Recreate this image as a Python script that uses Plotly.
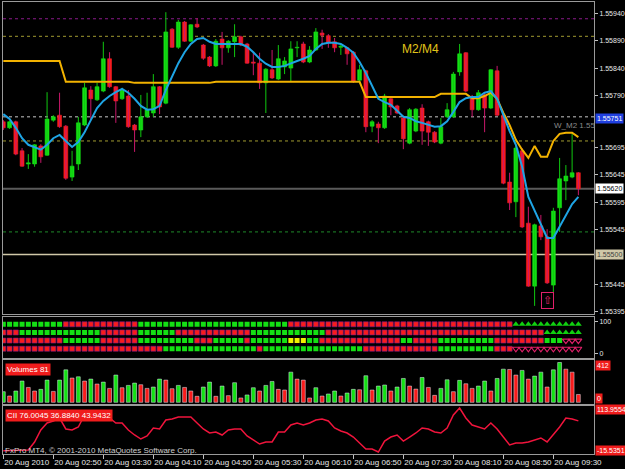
import plotly.graph_objects as go
from plotly.subplots import make_subplots

# ---------------- data ----------------
bar_index = list(range(93))

open_p = [1.55742,1.55731,1.55742,1.55689,1.55665,1.55665,1.55698,1.55681,1.55745,1.55754,
1.55734,1.55641,1.55665,1.55736,1.55800,1.55782,1.55798,1.55857,1.55806,1.55784,
1.55789,1.55736,1.55727,1.55751,1.55758,1.55806,1.55776,1.55911,1.55878,1.55924,
1.55889,1.55920,1.55882,1.55860,1.55844,1.55893,1.55877,1.55888,1.55897,1.55884,
1.55851,1.55849,1.55813,1.55837,1.55820,1.55842,1.55840,1.55877,1.55884,1.55851,
1.55873,1.55904,1.55899,1.55888,1.55878,1.55877,1.55869,1.55818,1.55835,1.55734,
1.55738,1.55731,1.55784,1.55771,1.55749,1.55703,1.55725,1.55767,1.55742,1.55723,
1.55703,1.55751,1.55751,1.55833,1.55868,1.55787,1.55764,1.55791,1.55767,1.55835,
1.55754,1.55632,1.55596,1.55689,1.55557,1.55442,1.55552,1.55532,1.55444,1.55585,
1.55634,1.55641,1.55649]

high_p = [1.55745,1.55744,1.55744,1.55694,1.55683,1.55701,1.55701,1.55796,1.55754,1.55795,
1.55736,1.55689,1.55751,1.55813,1.55807,1.55813,1.55888,1.55869,1.55807,1.55804,
1.55800,1.55738,1.55791,1.55795,1.55829,1.55807,1.55942,1.55913,1.55928,1.55926,
1.55920,1.55931,1.55884,1.55862,1.55893,1.55906,1.55891,1.55920,1.55899,1.55886,
1.55869,1.55868,1.55840,1.55873,1.55882,1.55860,1.55889,1.55889,1.55888,1.55880,
1.55913,1.55910,1.55902,1.55895,1.55884,1.55878,1.55871,1.55846,1.55837,1.55745,
1.55742,1.55793,1.55785,1.55773,1.55753,1.55767,1.55767,1.55774,1.55744,1.55725,
1.55749,1.55776,1.55833,1.55884,1.55869,1.55791,1.55800,1.55795,1.55838,1.55844,
1.55756,1.55649,1.55700,1.55694,1.55587,1.55556,1.55572,1.55546,1.55585,1.55676,
1.55663,1.55722,1.55650]

low_p = [1.55727,1.55729,1.55681,1.55660,1.55656,1.55660,1.55667,1.55680,1.55742,1.55731,
1.55636,1.55634,1.55654,1.55734,1.55745,1.55780,1.55796,1.55804,1.55740,1.55782,
1.55731,1.55687,1.55714,1.55749,1.55751,1.55756,1.55774,1.55877,1.55875,1.55888,
1.55888,1.55913,1.55855,1.55842,1.55842,1.55846,1.55868,1.55860,1.55880,1.55848,
1.55827,1.55802,1.55758,1.55820,1.55818,1.55829,1.55816,1.55860,1.55849,1.55849,
1.55871,1.55875,1.55877,1.55869,1.55864,1.55846,1.55813,1.55816,1.55723,1.55723,
1.55703,1.55729,1.55754,1.55756,1.55692,1.55701,1.55723,1.55700,1.55698,1.55703,
1.55701,1.55749,1.55749,1.55826,1.55796,1.55751,1.55762,1.55723,1.55765,1.55753,
1.55628,1.55581,1.55568,1.55548,1.55441,1.55406,1.55526,1.55446,1.55428,1.55541,
1.55599,1.55639,1.55608]

close_p = [1.55731,1.55742,1.55683,1.55661,1.55667,1.55700,1.55678,1.55747,1.55751,1.55733,
1.55639,1.55661,1.55740,1.55804,1.55784,1.55806,1.55857,1.55806,1.55780,1.55800,
1.55733,1.55727,1.55751,1.55764,1.55806,1.55769,1.55906,1.55878,1.55924,1.55889,
1.55919,1.55915,1.55858,1.55844,1.55889,1.55877,1.55889,1.55897,1.55882,1.55849,
1.55849,1.55813,1.55838,1.55822,1.55857,1.55853,1.55875,1.55878,1.55851,1.55873,
1.55906,1.55900,1.55886,1.55877,1.55880,1.55866,1.55815,1.55837,1.55733,1.55742,
1.55731,1.55789,1.55769,1.55758,1.55711,1.55764,1.55765,1.55725,1.55723,1.55705,
1.55733,1.55764,1.55829,1.55866,1.55798,1.55764,1.55795,1.55767,1.55837,1.55754,
1.55630,1.55594,1.55694,1.55550,1.55442,1.55554,1.55532,1.55448,1.55579,1.55638,
1.55643,1.55649,1.55620]

ma_fast = [1.55756,1.55747,1.55731,1.55712,1.55700,1.55696,1.55691,1.55700,1.55712,1.55718,
1.55707,1.55696,1.55705,1.55723,1.55745,1.55767,1.55780,1.55789,1.55796,1.55802,
1.55795,1.55784,1.55771,1.55764,1.55765,1.55771,1.55800,1.55826,1.55849,1.55869,
1.55884,1.55893,1.55895,1.55888,1.55884,1.55884,1.55884,1.55884,1.55884,1.55879,
1.55869,1.55857,1.55848,1.55842,1.55842,1.55844,1.55849,1.55853,1.55857,1.55862,
1.55875,1.55884,1.55886,1.55886,1.55884,1.55877,1.55868,1.55851,1.55831,1.55806,
1.55784,1.55778,1.55773,1.55762,1.55751,1.55749,1.55743,1.55740,1.55736,1.55733,
1.55734,1.55743,1.55760,1.55778,1.55785,1.55787,1.55787,1.55795,1.55798,1.55784,
1.55754,1.55725,1.55700,1.55660,1.55605,1.55581,1.55557,1.55530,1.55530,1.55550,
1.55570,1.55592,1.55605]

ma_m2m4 = [1.55853,1.55853,1.55853,1.55853,1.55853,1.55853,1.55853,1.55853,1.55853,1.55853,
1.55815,1.55815,1.55815,1.55815,1.55815,1.55815,1.55815,1.55815,1.55815,1.55815,
1.55815,1.55813,1.55813,1.55813,1.55813,1.55813,1.55813,1.55813,1.55813,1.55813,
1.55813,1.55813,1.55813,1.55813,1.55815,1.55815,1.55815,1.55815,1.55815,1.55815,
1.55815,1.55815,1.55815,1.55815,1.55815,1.55815,1.55815,1.55815,1.55815,1.55815,
1.55815,1.55815,1.55815,1.55815,1.55815,1.55815,1.55815,1.55815,1.55787,1.55787,
1.55787,1.55787,1.55787,1.55787,1.55787,1.55787,1.55787,1.55787,1.55787,1.55787,
1.55793,1.55793,1.55793,1.55793,1.55793,1.55785,1.55785,1.55789,1.55795,1.55784,
1.55758,1.55736,1.55709,1.55691,1.55676,1.55698,1.55678,1.55678,1.55707,1.55720,
1.55722,1.55722,1.55714]

volumes = [110,65,117,220,154,117,134,230,113,230,
336,251,264,220,240,189,209,144,282,151,
175,199,182,144,158,240,230,141,175,154,
117,62,158,209,62,168,69,203,45,76,
151,117,175,216,134,127,312,240,230,45,
151,65,86,117,65,96,134,130,275,127,
168,179,117,158,247,168,137,257,154,72,
144,233,110,227,192,144,168,220,117,247,
343,340,282,330,240,271,312,158,336,412,
343,312,81]

cci = [-11.7,-11.7,-11.7,-11.7,-9.6,13.9,49.2,69.8,75.7,84.5,
52.2,49.2,58.1,93.4,93.4,93.4,91.9,84.5,69.8,69.8,
49.2,34.5,22.7,31.6,55.1,52.2,78.6,81.6,87.5,87.5,
87.5,69.8,52.2,40.4,43.3,34.5,49.2,52.2,52.2,31.6,
19.8,8.0,13.9,13.9,43.3,43.3,63.9,69.8,63.9,69.8,
78.6,81.6,75.7,55.1,46.3,40.4,28.6,11.0,-6.7,-6.7,
-15.5351,16.8,28.6,34.5,16.8,28.6,40.4,55.1,52.2,43.3,
40.4,55.1,93.4,113.9554,84.5,63.9,58.1,52.2,69.8,52.2,
28.6,5.1,11.0,11.0,13.9,19.8,25.7,13.9,34.5,58.1,
84.5,81.6,76.0045]

# signal rows of the dot indicator: G=green, R=red, Y=yellow, U=up arrow, D=down arrow
sig_row1 = "GGGGGGGGGGRRRRRRRRRRRRGGGGGGGGGGGGGGGGGGGGGGGGRRRRRRRRRRRRRRRRRRRRRRRRRRRRRRRRRRRRUUUUUUUUUUU"
sig_row2 = "RRRGGGGGGGGGGGGGRRRRRRGGGGGGRRRRRRRRRRRRGGGGGGGGGGGGRRRRRRRRRRRRRRRRRRRRRRRRRRRRRRRRRRRUUUUUU"
sig_row3 = "RRRRRRRRRRGGGGGGRRRRRRGGGGGGGGGRRRGGGGGRGGGGGGYYYGGRRRRRRRRRRRRRGGRRRRGGGGGGGGGRRRRRRRRGGGDDD"
sig_row4 = "RRRRRRRRRRRRRRRRRRRRRRRRRRGGGGGGGGGGGGGGGRGGGGGGGGGGGGGGGGRRRRRRRRRRRRGGGGGGGGGRRRDDDDDDDDDDD"

levels = [1.55930, 1.55898, 1.55751, 1.55707, 1.55620, 1.55541, 1.55500]
level_styles = [("#8a1a8a", "3px,3px", 1), ("#a09a30", "3px,3px", 1), ("#c8c8c8", "3px,3px", 1),
                ("#a09a30", "3px,3px", 1), ("#5a5a5a", "solid", 2), ("#1f8a2a", "3px,3px", 1),
                ("#d0c8a8", "solid", 1.5)]

price_ticks = [1.55940, 1.55890, 1.55840, 1.55790, 1.55695, 1.55645, 1.55595, 1.55545, 1.55445, 1.55395]
time_tick_index = [0, 8, 16, 24, 32, 40, 48, 56, 64, 72, 80, 88]
time_tick_labels = ["20 Aug 2010", "20 Aug 02:50", "20 Aug 03:30", "20 Aug 04:10", "20 Aug 04:50",
                    "20 Aug 05:30", "20 Aug 06:10", "20 Aug 06:50", "20 Aug 07:30", "20 Aug 08:10",
                    "20 Aug 08:50", "20 Aug 09:30"]
signal_up = (87, 1.55415)

# ---------------- figure ----------------
GREEN = "#14e014"
RED = "#f81c1c"
FONT = "Liberation Sans, Arial, sans-serif"

fig = make_subplots(rows=4, cols=1, shared_xaxes=True, vertical_spacing=0.0)

up = [i for i in bar_index if close_p[i] >= open_p[i]]
dn = [i for i in bar_index if close_p[i] < open_p[i]]

def wicks(idx):
    xs, ys = [], []
    for i in idx:
        xs += [i, i, None]
        ys += [low_p[i], high_p[i], None]
    return xs, ys

for idx, col in ((up, "#10c810"), (dn, "#c8186a")):
    wx, wy = wicks(idx)
    fig.add_trace(go.Scatter(x=wx, y=wy, mode="lines", line=dict(color=col, width=1),
                             hoverinfo="skip"), row=1, col=1)

fig.add_trace(go.Bar(x=up, y=[close_p[i] - open_p[i] for i in up], base=[open_p[i] for i in up],
                     width=0.62, marker=dict(color=GREEN, line=dict(color=GREEN, width=0.6))), row=1, col=1)
fig.add_trace(go.Bar(x=dn, y=[open_p[i] - close_p[i] for i in dn], base=[close_p[i] for i in dn],
                     width=0.62, marker=dict(color=RED, line=dict(color=RED, width=0.6))), row=1, col=1)

fig.add_trace(go.Scatter(x=bar_index, y=ma_m2m4, mode="lines", line=dict(color="#f2b200", width=2)), row=1, col=1)
fig.add_trace(go.Scatter(x=bar_index, y=ma_fast, mode="lines", line=dict(color="#1ea4e4", width=2)), row=1, col=1)

for lv, (c, d, w) in zip(levels, level_styles):
    fig.add_hline(y=lv, line=dict(color=c, dash=d, width=w), layer="below", row=1, col=1)

# dot indicator panel
row_levels = [92, 66, 40, 14]
styles = {"G": dict(symbol="square", color=GREEN, size=5),
          "R": dict(symbol="square", color=RED, size=5, line=dict(color="#7a1a8a", width=0.6)),
          "Y": dict(symbol="square", color="#f0f000", size=5),
          "U": dict(symbol="triangle-up", color="#10d010", size=6),
          "D": dict(symbol="triangle-down-open", color="#e0206a", size=6, line=dict(width=1.2))}
for lvl, row in zip(row_levels, [sig_row1, sig_row2, sig_row3, sig_row4]):
    for code, st in styles.items():
        xs = [i for i in bar_index if row[i] == code]
        if xs:
            fig.add_trace(go.Scatter(x=xs, y=[lvl] * len(xs), mode="markers", marker=st), row=2, col=1)

# volumes
vol_colors = [GREEN] + [GREEN if volumes[i] > volumes[i - 1] else RED for i in bar_index[1:]]
fig.add_trace(go.Bar(x=bar_index, y=volumes, width=0.62, marker=dict(color=vol_colors)), row=3, col=1)

# CCI
fig.add_trace(go.Scatter(x=bar_index, y=cci, mode="lines", line=dict(color="#f0143c", width=1.5)), row=4, col=1)

# ---------------- layout ----------------
W, H = 625, 469
def dom(top_px, bot_px):
    return [1 - bot_px / H, 1 - top_px / H]

frame = "#9a9a9a"
xr = [-0.05, 94.5]
common_x = dict(range=xr, showgrid=False, zeroline=False, showline=True, mirror=True,
                linecolor=frame, linewidth=1, domain=[3 / W, 594 / W], automargin=False)
common_y = dict(side="right", showgrid=False, zeroline=False, showline=True, mirror=True,
                linecolor=frame, automargin=False)
fig.update_layout(
    width=W, height=H, margin=dict(l=0, r=0, t=0, b=0, autoexpand=False),
    paper_bgcolor="#000000", plot_bgcolor="#000000", showlegend=False, barmode="overlay",
    font=dict(family=FONT, color="#e0e0e0", size=8),
    xaxis=dict(common_x, showticklabels=False, ticks=""),
    xaxis2=dict(common_x, showticklabels=False, ticks=""),
    xaxis3=dict(common_x, showticklabels=False, ticks=""),
    xaxis4=dict(common_x, tickvals=time_tick_index, ticktext=time_tick_labels, ticks="outside",
                ticklen=4, tickcolor="#c0c0c0", ticklabelposition="outside right", tickangle=0,
                tickfont=dict(size=8, color="#e8e8e8", family=FONT)),
    yaxis=dict(common_y, domain=dom(1.5, 314), range=[1.553912, 1.559615],
               tickvals=price_ticks, ticktext=["%.5f" % v for v in price_ticks],
               ticks="outside", ticklen=3, tickcolor="#c0c0c0",
               tickfont=dict(size=7, color="#e8e8e8", family=FONT)),
    yaxis2=dict(common_y, domain=dom(316.5, 358), range=[-15.5, 116.8],
                tickvals=[0, 100], ticktext=["0", "100"], ticks="outside", ticklen=3,
                tickcolor="#c0c0c0", tickfont=dict(size=7, color="#e8e8e8", family=FONT)),
    yaxis3=dict(common_y, domain=dom(360, 403.5), range=[-12.4, 437.9],
                showticklabels=False, ticks=""),
    yaxis4=dict(common_y, domain=dom(405.5, 454), range=[-21.4, 121.3],
                showticklabels=False, ticks=""),
)

def right_box(text, y, yref, bg, fg, yshift=0):
    fig.add_annotation(text=text, x=595 / W, xref="paper", xanchor="left", y=y, yref=yref,
                       yanchor="middle", yshift=yshift, showarrow=False, bgcolor=bg, borderpad=1,
                       font=dict(size=7, color=fg, family=FONT))

right_box("%.5f" % levels[2], levels[2], "y", "#2040e0", "#ffffff", -2)
right_box("%.5f" % levels[4], levels[4], "y", "#ffffff", "#000000")
right_box("%.5f" % levels[6], levels[6], "y", "#d0c8a8", "#404040")
right_box(str(max(volumes)), max(volumes), "y3", "#f01c1c", "#ffffff", -3)
right_box("0", 0, "y3", "#f01c1c", "#ffffff", 4)
right_box("%.4f" % max(cci), max(cci), "y4", "#f01c1c", "#ffffff", -1)
right_box("%.4f" % min(cci), min(cci), "y4", "#f01c1c", "#ffffff", 2)

def left_box(text, top_px):
    fig.add_annotation(text=text, x=5 / W, xref="paper", xanchor="left", y=1 - top_px / H,
                       yref="paper", yanchor="top", showarrow=False, bgcolor="#f01c1c", borderpad=1,
                       font=dict(size=8, color="#ffffff", family=FONT))

left_box("Volumes %d" % volumes[-1], 362.5)
left_box("CII %.4f 36.8840 43.9432" % cci[-1], 408.5)

fig.add_annotation(text="M2/M4", x=400 / W, xref="paper", xanchor="left", y=1 - 49 / H, yref="paper",
                   yanchor="middle", showarrow=False, font=dict(size=12, color="#e0c41a", family=FONT))
fig.add_annotation(text="W_M2 1.55", x=552 / W, xref="paper", xanchor="left", y=1 - 125.5 / H,
                   yref="paper", yanchor="middle", showarrow=False,
                   font=dict(size=8, color="#8a8a8a", family=FONT))
fig.add_annotation(text="FxPro MT4, \u00a9 2001-2010 MetaQuotes Software Corp.", x=3 / W, xref="paper",
                   xanchor="left", y=1 - 450 / H, yref="paper", yanchor="middle", showarrow=False,
                   font=dict(size=8, color="#d0d0d0", family=FONT))
fig.add_annotation(text="\u21e7", x=signal_up[0], xref="x", y=signal_up[1], yref="y", showarrow=False,
                   bordercolor="#e0206a", borderwidth=1, borderpad=1, bgcolor="#000000",
                   font=dict(size=11, color="#e0206a", family="DejaVu Sans"))

fig.write_html("out.html")
